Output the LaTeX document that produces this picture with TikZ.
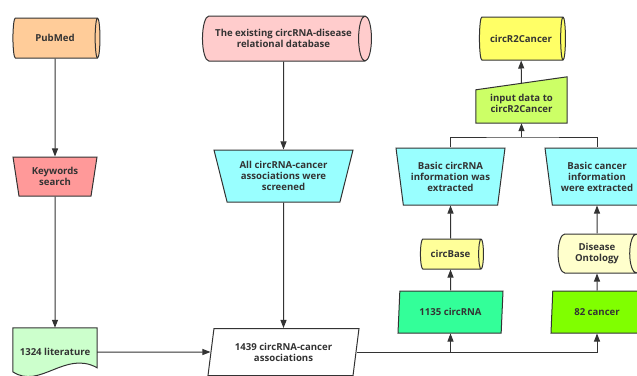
\documentclass[tikz,border=0pt]{standalone}
\usepackage{fontspec}
\setmainfont{Open Sans}
\usepackage{tikz}
\usetikzlibrary{shapes.geometric, arrows.meta, backgrounds, calc}

\definecolor{pubmedc}{HTML}{FFCC99}
\definecolor{kwc}{HTML}{FF9999}
\definecolor{litc}{HTML}{CCFFCC}
\definecolor{dbc}{HTML}{FFCCCC}
\definecolor{cyanc}{HTML}{99FFFF}
\definecolor{r2cc}{HTML}{FFFF66}
\definecolor{inputc}{HTML}{CCFF66}
\definecolor{cbasec}{HTML}{FFFF99}
\definecolor{ontoc}{HTML}{FFFFCC}
\definecolor{c1135c}{HTML}{33FF99}
\definecolor{c82c}{HTML}{80FF00}
\definecolor{ink}{HTML}{333333}

\begin{document}
\begin{tikzpicture}[x=1pt, y=-1pt,
        font=\fontsize{9.6}{11}\selectfont\bfseries,
        every node/.style={text=ink, align=center},
        shp/.style={draw=ink, line width=1pt},
        cyl/.style={shp, cylinder, shape aspect=0.65, inner sep=0pt},
        trap/.style={shp, trapezium, shape border rotate=180, trapezium stretches body, inner sep=0pt},
        para/.style={shp, trapezium, trapezium stretches body, inner sep=0pt},
        line/.style={draw=ink, line width=1pt},
        arr/.style={line, -{Triangle[length=8pt, width=6pt]}}]
        \useasboundingbox (0,0) rectangle (637,375);
        \clip (0,0) rectangle (637,375);

        \node[cyl, fill=pubmedc, minimum height=87, minimum width=40] (pubmed) at (55,38) {PubMed};
        \node[trap, fill=kwc, trapezium angle=72, minimum width=84, minimum height=39] (keywords) at (55,176.5) {Keywords\\search};
        \node[inner sep=0pt, minimum width=84, minimum height=48] (lit) at (55,352) {1324 literature};

        \node[cyl, fill=dbc, shape aspect=0.7, minimum height=169, minimum width=45] (db) at (283.5,38.5) {The existing circRNA-disease\\relational database};
        \node[trap, fill=cyanc, trapezium angle=66, minimum width=139, minimum height=52] (allcirc) at (283.5,176) {All circRNA-cancer\\associations were\\screened};
        \node[para, fill=white, trapezium left angle=72, trapezium right angle=108, minimum width=151, minimum height=47] (assoc) at (283.5,352) {1439 circRNA-cancer\\associations};

        \node[cyl, fill=r2cc, minimum height=86, minimum width=43] (r2c) at (521,38.5) {circR2Cancer};
        \node[inner sep=0pt, minimum width=91, minimum height=39] (input) at (521.5,103.5) {input data to\\circR2Cancer};
        \node[trap, fill=cyanc, trapezium angle=76, minimum width=109, minimum height=57] (bcirc) at (450.5,176.5) {Basic circRNA\\information was\\extracted};
        \node[trap, fill=cyanc, trapezium angle=76, minimum width=104, minimum height=57] (bcancer) at (597,176.5) {Basic cancer\\information\\were extracted};
        \node[cyl, fill=cbasec, minimum height=63, minimum width=30] (circbase) at (450.5,254) {circBase};
        \node[cyl, fill=ontoc, minimum height=85, minimum width=39] (onto) at (597,253.5) {Disease\\Ontology};
        \node[para, fill=c1135c, trapezium left angle=76, trapezium right angle=104, minimum width=105, minimum height=42] (c1135) at (450.5,312) {1135 circRNA};
        \node[para, fill=c82c, trapezium left angle=76, trapezium right angle=104, minimum width=92, minimum height=42] (c82) at (597,312) {82 cancer};

        \begin{pgfonlayer}{background}
            \draw[shp, fill=litc] (lit.north west) -- (lit.north east) -- ($(lit.north east)+(0,40)$)
                .. controls ($(lit.north east)+(-32,22)$) and ($(lit.north west)+(27,62)$) .. ($(lit.north west)+(0,44)$) -- cycle;
            \draw[shp, fill=inputc] (input.south west) -- ($(input.north west)+(0,6)$) -- ($(input.north east)+(0,-7)$) -- (input.south east) -- cycle;
        \end{pgfonlayer}

        \draw[arr] (pubmed) -- (keywords);
        \draw[arr] (keywords) -- (lit);
        \draw[arr] (lit) -- (assoc);
        \draw[arr] (db) -- (allcirc);
        \draw[arr] (allcirc) -- (assoc);
        \draw[arr] (assoc) -| (c82);
        \draw[arr] (c1135 |- assoc) -- (c1135);
        \draw[arr] (c1135) -- (circbase);
        \draw[arr] (circbase) -- (bcirc);
        \draw[arr] (c82) -- (onto);
        \draw[arr] (onto) -- (bcancer);
        \coordinate (join) at (521.5,137);
        \draw[line] (bcirc) |- (join) -| (bcancer);
        \draw[arr] (join) -- (input);
        \draw[arr] (input) -- (r2c);
    \end{tikzpicture}
\end{document}
